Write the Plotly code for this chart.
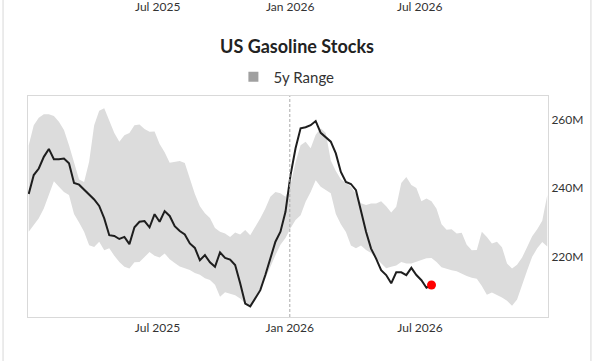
import pandas as pd
import plotly.graph_objects as go

# Weekly dates (EIA weekly, Fridays)
start_date = "2025-01-03"
band_upper = [252.5, 258.3, 260.5, 261.5, 261.5, 261.0, 259.3, 256.9, 252.5, 247.7,
              242.5, 241.8, 247.7, 258.3, 262.5, 263.2, 259.3, 256.0, 253.5, 255.4,
              256.0, 258.3, 258.5, 257.2, 256.4, 256.5, 252.8, 250.4, 247.4, 247.7,
              247.9, 247.3, 243.0, 238.3, 234.7, 232.7, 231.3, 228.4, 227.3, 226.8,
              225.8, 227.1, 226.5, 227.8, 226.3, 228.7, 231.2, 234.1, 237.5, 238.9,
              238.5, 237.5, 241.0, 247.5, 252.5, 253.5, 251.6, 255.5, 257.4, 256.0,
              248.0, 245.0, 242.6, 241.5, 240.5, 238.3, 235.6, 235.1, 235.5, 235.5,
              236.2, 234.7, 232.9, 234.6, 241.5, 243.2, 240.9, 240.0, 236.2, 237.0,
              236.2, 234.0, 229.5, 227.9, 228.0, 226.8, 227.0, 223.5, 221.9, 222.0,
              227.3, 225.8, 223.9, 224.4, 222.8, 218.1, 216.6, 217.7, 219.8, 222.9,
              226.0, 228.0, 230.5, 238.0]
band_lower = [227.3, 229.2, 231.2, 234.1, 238.0, 242.0, 240.4, 238.9, 238.0, 232.5,
              230.0, 227.3, 223.4, 222.9, 224.4, 221.9, 222.5, 220.3, 218.5, 217.1,
              216.6, 218.4, 218.5, 220.0, 221.4, 220.3, 219.8, 221.0, 219.3, 218.2,
              217.2, 216.7, 216.2, 215.3, 214.8, 213.8, 213.3, 211.9, 208.4, 209.7,
              209.3, 208.8, 207.9, 206.4, 205.4, 207.4, 210.3, 213.7, 217.6, 220.5,
              223.5, 225.5, 228.3, 230.7, 232.1, 236.0, 238.9, 242.3, 240.4, 239.4,
              238.5, 232.5, 229.5, 227.2, 223.3, 222.5, 223.3, 222.0, 221.1, 219.6,
              218.2, 216.7, 217.1, 217.5, 218.5, 218.1, 218.1, 218.6, 219.1, 219.6,
              219.7, 218.5, 217.0, 216.5, 216.1, 215.8, 215.0, 214.4, 213.9, 213.6,
              211.5, 209.0, 209.6, 209.0, 208.2, 207.2, 205.8, 207.6, 211.5, 216.0,
              220.0, 222.5, 224.3, 223.0]
stocks = [238.3, 243.8, 245.7, 249.1, 251.4, 248.4, 248.4, 248.6, 247.2, 241.5,
          241.0, 239.6, 238.2, 236.7, 234.8, 231.2, 226.3, 226.1, 225.2, 225.8,
          223.7, 228.6, 230.2, 230.4, 228.6, 232.4, 230.2, 233.3, 231.9, 228.9,
          227.5, 226.5, 223.9, 222.6, 219.0, 220.5, 218.4, 217.1, 221.3, 219.7,
          219.2, 217.6, 212.3, 206.4, 205.6, 207.9, 210.3, 214.7, 219.5, 224.4,
          227.3, 233.1, 243.8, 251.6, 257.4, 257.7, 258.3, 259.5, 256.1, 254.9,
          253.5, 250.1, 244.7, 241.8, 241.2, 239.4, 233.1, 227.3, 222.4, 219.5,
          216.1, 214.7, 212.3, 215.5, 215.5, 214.7, 216.8, 214.7, 213.2, 211.0,
          211.8]
tick_dates = ["2025-07-01", "2026-01-01", "2026-07-01"]
tick_labels = ["Jul 2025", "Jan 2026", "Jul 2026"]
y_ticks = [220, 240, 260]
y_tick_labels = ["220M", "240M", "260M"]

band_dates = pd.date_range(start_date, periods=len(band_upper), freq="7D")
stock_dates = pd.date_range(start_date, periods=len(stocks), freq="7D")

FONT = "Lato"
fig = go.Figure()
fig.add_trace(go.Scatter(x=band_dates, y=band_lower, mode="lines",
                         line=dict(width=0, color="#dcdcdc"), showlegend=False,
                         hoverinfo="skip"))
fig.add_trace(go.Scatter(x=band_dates, y=band_upper, mode="lines", fill="tonexty",
                         fillcolor="#dcdcdc", line=dict(width=0, color="#dcdcdc"),
                         showlegend=False, hoverinfo="skip"))
fig.add_trace(go.Scatter(x=[None], y=[None], mode="markers", name="5y Range",
                         marker=dict(symbol="square", size=10, color="#a0a0a0")))
fig.add_trace(go.Scatter(x=stock_dates, y=stocks, mode="lines",
                         line=dict(width=2, color="#1e1e1e"), showlegend=False))
fig.add_trace(go.Scatter(x=[stock_dates[-1]], y=[stocks[-1]], mode="markers",
                         marker=dict(size=9, color="#ff0000"), showlegend=False))

# dashed line at Jan 2026
fig.add_shape(type="line", xref="x", yref="paper", x0=tick_dates[1], x1=tick_dates[1],
              y0=0, y1=1, line=dict(color="#aaaaaa", width=1, dash="3px,2px"), layer="above")
# card borders
for xp in [-0.048, 1.0826]:
    fig.add_shape(type="line", xref="paper", yref="paper", x0=xp, x1=xp, y0=-0.205, y1=1.44,
                  line=dict(color="#d8d8d8", width=1))

# labels of the chart above (cut off at the top edge)
for d, t in zip(tick_dates, tick_labels):
    fig.add_annotation(x=d, y=1.405, xref="x", yref="paper", text=t, showarrow=False,
                       yanchor="middle", font=dict(family=FONT, size=12, color="#333333"))

fig.update_layout(
    width=605, height=361,
    margin=dict(l=28, r=57, t=96, b=44, autoexpand=False),
    paper_bgcolor="white", plot_bgcolor="white",
    font=dict(family=FONT, size=12, color="#333333"),
    title=dict(text="<b>US Gasoline Stocks</b>", x=297 / 605, xref="container", xanchor="center",
               y=1 - 47 / 361, yref="container", yanchor="middle",
               font=dict(family=FONT, size=18, color="#222222")),
    legend=dict(orientation="h", x=0.395, xanchor="left", y=1.086, yanchor="middle",
                font=dict(family=FONT, size=15, color="#333333"), bgcolor="rgba(0,0,0,0)"),
    showlegend=True,
)
fig.update_xaxes(type="date", range=["2025-01-02", "2026-12-26"], tickmode="array",
                 tickvals=tick_dates, ticktext=tick_labels, showgrid=False, zeroline=False,
                 showline=True, mirror=True, linecolor="#d9d9d9", linewidth=1, ticks="",
                 tickfont=dict(family=FONT, size=12, color="#333333"))
fig.update_yaxes(side="right", range=[202.5, 266.8], tickmode="array", tickvals=y_ticks,
                 ticktext=y_tick_labels, showgrid=False, zeroline=False, showline=True,
                 mirror=True, linecolor="#d9d9d9", linewidth=1, ticks="",
                 tickfont=dict(family=FONT, size=12, color="#333333"))

fig.write_html("out.html")
